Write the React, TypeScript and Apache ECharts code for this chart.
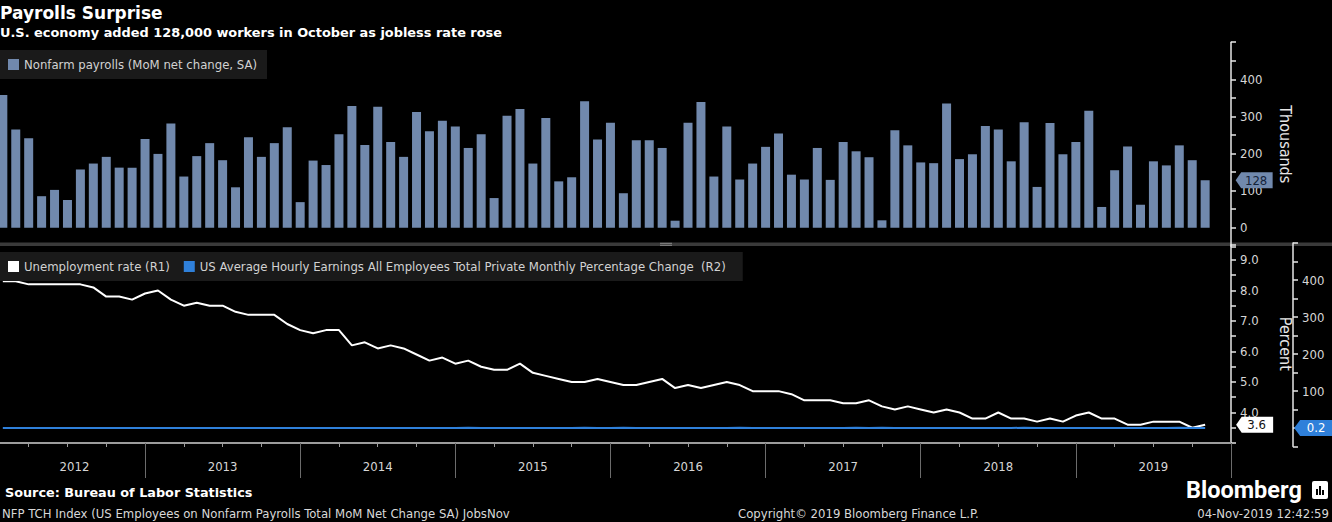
import React, { useEffect, useRef } from 'react';
import * as echarts from 'echarts';

// Nonfarm payrolls, MoM net change (thousands), Jan 2012 .. Oct 2019
const payrolls = [
  358, 265, 241, 85, 102, 75, 157, 173, 191, 162, 162, 239,
  199, 281, 138, 193, 228, 182, 109, 244, 191, 228, 271, 69,
  181, 169, 252, 328, 223, 326, 231, 191, 312, 260, 288, 273,
  215, 252, 80, 302, 320, 173, 296, 125, 136, 341, 238, 283,
  93, 236, 236, 215, 19, 283, 339, 138, 273, 130, 173, 218,
  254, 143, 130, 215, 129, 231, 206, 190, 20, 263, 222, 176,
  174, 335, 185, 198, 274, 265, 179, 284, 110, 282, 198, 231,
  315, 56, 155, 219, 62, 179, 168, 222, 182, 128,
];

// Unemployment rate (%), Jan 2012 .. Oct 2019
const unemployment = [
  8.3, 8.3, 8.2, 8.2, 8.2, 8.2, 8.2, 8.1, 7.8, 7.8, 7.7, 7.9,
  8.0, 7.7, 7.5, 7.6, 7.5, 7.5, 7.3, 7.2, 7.2, 7.2, 6.9, 6.7,
  6.6, 6.7, 6.7, 6.2, 6.3, 6.1, 6.2, 6.1, 5.9, 5.7, 5.8, 5.6,
  5.7, 5.5, 5.4, 5.4, 5.6, 5.3, 5.2, 5.1, 5.0, 5.0, 5.1, 5.0,
  4.9, 4.9, 5.0, 5.1, 4.8, 4.9, 4.8, 4.9, 5.0, 4.9, 4.7, 4.7,
  4.7, 4.6, 4.4, 4.4, 4.4, 4.3, 4.3, 4.4, 4.2, 4.1, 4.2, 4.1,
  4.0, 4.1, 4.0, 3.8, 3.8, 4.0, 3.8, 3.8, 3.7, 3.8, 3.7, 3.9,
  4.0, 3.8, 3.8, 3.6, 3.6, 3.7, 3.7, 3.7, 3.5, 3.6,
];

// Average hourly earnings, monthly % change, Jan 2012 .. Oct 2019
const hourlyEarnings = [
  0.2, 0.1, 0.2, 0.1, 0.1, 0.3, 0.1, 0.1, 0.3, 0.0, 0.3, 0.3,
  0.2, 0.2, 0.1, 0.2, 0.1, 0.3, 0.0, 0.3, 0.1, 0.1, 0.2, 0.2,
  0.2, 0.3, 0.0, 0.1, 0.2, 0.2, 0.1, 0.2, 0.0, 0.1, 0.3, 0.0,
  0.4, 0.1, 0.3, 0.1, 0.3, 0.0, 0.2, 0.3, 0.0, 0.4, 0.2, 0.0,
  0.4, 0.0, 0.3, 0.3, 0.2, 0.1, 0.3, 0.1, 0.2, 0.4, 0.1, 0.2,
  0.2, 0.2, 0.1, 0.3, 0.2, 0.2, 0.4, 0.2, 0.4, 0.0, 0.2, 0.3,
  0.3, 0.1, 0.2, 0.2, 0.3, 0.1, 0.3, 0.4, 0.3, 0.2, 0.3, 0.3,
  0.2, 0.1, 0.2, 0.2, 0.2, 0.3, 0.3, 0.4, 0.0, 0.2,
];

const years = ['2012', '2013', '2014', '2015', '2016', '2017', '2018', '2019'];
const payrollTicks = [0, 100, 200, 300, 400];
const rateTicks = [4, 5, 6, 7, 8, 9];
const earningsTicks = [100, 200, 300, 400];

const SERIES_PAY = 'Nonfarm payrolls (MoM net change, SA)';
const SERIES_UR = 'Unemployment rate (R1)';
const SERIES_AHE = 'US Average Hourly Earnings All Employees Total Private Monthly Percentage Change  (R2)';

const COND = '"Liberation Sans Narrow", "DejaVu Sans Condensed", "Arial Narrow", sans-serif';
const BOLDF = '"DejaVu Sans", Verdana, sans-serif';

export default function App() {
  const ref = useRef<HTMLDivElement>(null);

  useEffect(() => {
    const chart = echarts.init(ref.current as HTMLDivElement, null, { renderer: 'svg' });
    // x value = months since 1 Jan 2012; a month's point sits at its month end
    const toXY = (arr: number[]) => arr.map((v, i) => [i + 1, v]);
    const last = payrolls.length;

    const gx = { left: -10.1, width: 1241.1, outerBoundsMode: 'none', containLabel: false };
    const axisText = { color: '#d6d6d6', fontSize: 13, fontFamily: COND };
    const hiddenX = (gridIndex: number) => ({
      type: 'value', gridIndex, min: 0, max: 96, show: false,
      axisLine: { onZero: false },
    });
    const rightAxis = (extra: any) => ({
      type: 'value',
      position: 'right',
      splitLine: { show: false },
      axisLine: { show: true, onZero: false, lineStyle: { color: '#e6e6e6', width: 1.5 } },
      axisTick: { show: true, length: 5, lineStyle: { color: '#e6e6e6', width: 1.5 } },
      nameLocation: 'middle',
      nameRotate: -90,
      nameGap: 46,
      nameTextStyle: { color: '#e6e6e6', fontSize: 16, fontFamily: COND },
      ...extra,
    });
    const tagPath = 'path://M0,8L6,0H40V16H6Z';

    const option: any = {
      animation: false,
      backgroundColor: '#000000',
      textStyle: { fontFamily: COND },
      grid: [
        { ...gx, top: 42.2, height: 204.1 },
        { ...gx, top: 244.7, height: 198.3 },
        { ...gx, top: 243, height: 203.5 },
      ],
      legend: [
        {
          data: [SERIES_PAY],
          left: 0, top: 50,
          padding: [8, 10, 8, 8],
          backgroundColor: '#1a1a1a',
          icon: 'rect', itemWidth: 11, itemHeight: 11,
          selectedMode: false,
          textStyle: { color: '#d2d2d2', fontSize: 13, fontFamily: COND },
        },
        {
          data: [SERIES_UR, SERIES_AHE],
          left: 0, top: 252,
          padding: [8, 17, 8, 8],
          backgroundColor: '#1a1a1a',
          icon: 'rect', itemWidth: 11, itemHeight: 11, itemGap: 14,
          selectedMode: false,
          textStyle: { color: '#d2d2d2', fontSize: 13, fontFamily: COND },
        },
      ],
      xAxis: [
        hiddenX(0),
        {
          type: 'value', gridIndex: 1, min: 0, max: 96, interval: 3, position: 'bottom',
          axisLine: { show: true, onZero: false, lineStyle: { color: '#9c9c9c', width: 2 } },
          axisTick: { show: true, length: 4, lineStyle: { color: '#9c9c9c' } },
          axisLabel: { show: false },
          splitLine: { show: false },
        },
        hiddenX(2),
        {
          type: 'value', gridIndex: 1, min: 0, max: 96, interval: 12, position: 'bottom',
          axisLine: { show: false, onZero: false },
          axisTick: { show: true, length: 35, lineStyle: { color: '#6c6c6c' } },
          axisLabel: { show: false },
          splitLine: { show: false },
        },
        {
          type: 'value', gridIndex: 1, min: 0, max: 96, interval: 6, position: 'bottom',
          axisLine: { show: false, onZero: false },
          axisTick: { show: false },
          splitLine: { show: false },
          axisLabel: {
            ...axisText,
            margin: 17,
            formatter: (v: number) => {
              if (v % 12 !== 6) return '';
              const idx = (v - 6) / 12;
              return idx === 0 ? '{first|' + years[idx] + '}' : years[idx];
            },
            rich: { first: { ...axisText, padding: [0, 0, 0, 14] } },
          },
        },
      ],
      yAxis: [
        rightAxis({
          gridIndex: 0, min: -50, max: 500, interval: 50,
          name: 'Thousands',
          axisLabel: {
            ...axisText, margin: 9,
            formatter: (v: number) => (payrollTicks.includes(v) ? String(v) : ''),
          },
        }),
        rightAxis({
          gridIndex: 1, min: 3, max: 9.5, interval: 0.5,
          name: 'Percent',
          axisLabel: {
            ...axisText, margin: 9,
            formatter: (v: number) => (rateTicks.some((t) => Math.abs(t - v) < 1e-6) ? v.toFixed(1) : ''),
          },
        }),
        rightAxis({
          gridIndex: 2, min: -50, max: 500, interval: 50, offset: 62,
          axisLabel: {
            ...axisText, margin: 9,
            formatter: (v: number) => (earningsTicks.includes(v) ? String(v) : ''),
          },
        }),
      ],
      series: [
        {
          name: SERIES_PAY,
          type: 'bar',
          xAxisIndex: 0, yAxisIndex: 0,
          data: toXY(payrolls),
          barWidth: 9,
          clip: false,
          itemStyle: { color: '#7189ad' },
          markPoint: {
            symbol: tagPath,
            symbolSize: [37, 16],
            symbolOffset: [49, 0],
            itemStyle: { color: '#7189ad' },
            label: { show: true, position: 'inside', offset: [2, 0], color: '#14233a', fontSize: 13, fontFamily: COND, formatter: '{c}' },
            data: [{ coord: [last, payrolls[last - 1]], value: payrolls[last - 1] }],
          },
        },
        {
          name: SERIES_UR,
          type: 'line',
          xAxisIndex: 1, yAxisIndex: 1,
          data: toXY(unemployment),
          symbol: 'none',
          color: '#ffffff',
          itemStyle: { color: '#ffffff' },
          lineStyle: { color: '#ffffff', width: 2 },
          markPoint: {
            symbol: tagPath,
            symbolSize: [37, 16],
            symbolOffset: [49.5, 0],
            itemStyle: { color: '#ffffff' },
            label: { show: true, position: 'inside', offset: [2, 0], color: '#111111', fontSize: 13, fontFamily: COND, formatter: (p: any) => Number(p.value).toFixed(1) },
            data: [{ coord: [last, unemployment[last - 1]], value: unemployment[last - 1] }],
          },
        },
        {
          name: SERIES_AHE,
          type: 'line',
          xAxisIndex: 2, yAxisIndex: 2,
          data: toXY(hourlyEarnings),
          symbol: 'none',
          color: '#2f80da',
          itemStyle: { color: '#2f80da' },
          lineStyle: { color: '#2f80da', width: 2 },
          markPoint: {
            symbol: tagPath,
            symbolSize: [40, 16],
            symbolOffset: [109, 0],
            itemStyle: { color: '#2f80da' },
            label: { show: true, position: 'inside', offset: [2, 0], color: '#ffffff', fontSize: 13, fontFamily: COND, formatter: (p: any) => Number(p.value).toFixed(1) },
            data: [{ coord: [last, hourlyEarnings[last - 1]], value: hourlyEarnings[last - 1] }],
          },
        },
      ],
      graphic: [
        { type: 'rect', shape: { x: 0, y: 242.5, width: 1332, height: 3.5 }, style: { fill: '#3a3a3a' }, silent: true },
        { type: 'rect', shape: { x: 660, y: 242.8, width: 12, height: 1 }, style: { fill: '#8a8a8a' }, silent: true },
        { type: 'rect', shape: { x: 660, y: 244.8, width: 12, height: 1 }, style: { fill: '#8a8a8a' }, silent: true },
        { type: 'text', x: 0, y: 13, style: { text: 'Payrolls Surprise', fill: '#ffffff', font: 'bold 17px ' + BOLDF, align: 'left', verticalAlign: 'middle' } },
        { type: 'text', x: 0, y: 32, style: { text: 'U.S. economy added 128,000 workers in October as jobless rate rose', fill: '#ffffff', font: 'bold 12.9px ' + BOLDF, align: 'left', verticalAlign: 'middle' } },
        { type: 'text', x: 5, y: 492, style: { text: 'Source: Bureau of Labor Statistics', fill: '#ffffff', font: 'bold 12.8px ' + BOLDF, align: 'left', verticalAlign: 'middle' } },
        { type: 'text', x: 2, y: 513, style: { text: 'NFP TCH Index (US Employees on Nonfarm Payrolls Total MoM Net Change SA) JobsNov', fill: '#d8d8d8', font: '13px ' + COND, align: 'left', verticalAlign: 'middle' } },
        { type: 'text', x: 738, y: 513, style: { text: 'Copyright\u00a9 2019 Bloomberg Finance L.P.', fill: '#d8d8d8', font: '13px ' + COND, align: 'left', verticalAlign: 'middle' } },
        { type: 'text', x: 1329, y: 513, style: { text: '04-Nov-2019 12:42:59', fill: '#d8d8d8', font: '13px ' + COND, align: 'right', verticalAlign: 'middle' } },
        { type: 'text', x: 1186, y: 490, style: { text: 'Bloomberg', fill: '#ffffff', font: 'bold 23.5px Roboto, "Noto Sans", sans-serif', align: 'left', verticalAlign: 'middle' } },
        { type: 'rect', shape: { x: 1312, y: 481, width: 16, height: 18, r: 2 }, style: { fill: '#ffffff' }, silent: true },
        { type: 'rect', shape: { x: 1316, y: 489, width: 2, height: 6 }, style: { fill: '#000000' }, silent: true },
        { type: 'rect', shape: { x: 1319, y: 486, width: 2, height: 9 }, style: { fill: '#000000' }, silent: true },
        { type: 'rect', shape: { x: 1322, y: 490, width: 2, height: 5 }, style: { fill: '#000000' }, silent: true },
      ],
    };

    chart.setOption(option);
    return () => chart.dispose();
  }, []);

  return (
    <div
      ref={ref}
      style={{ position: 'fixed', left: 0, top: 0, width: 1332, height: 522, background: '#000' }}
    />
  );
}
